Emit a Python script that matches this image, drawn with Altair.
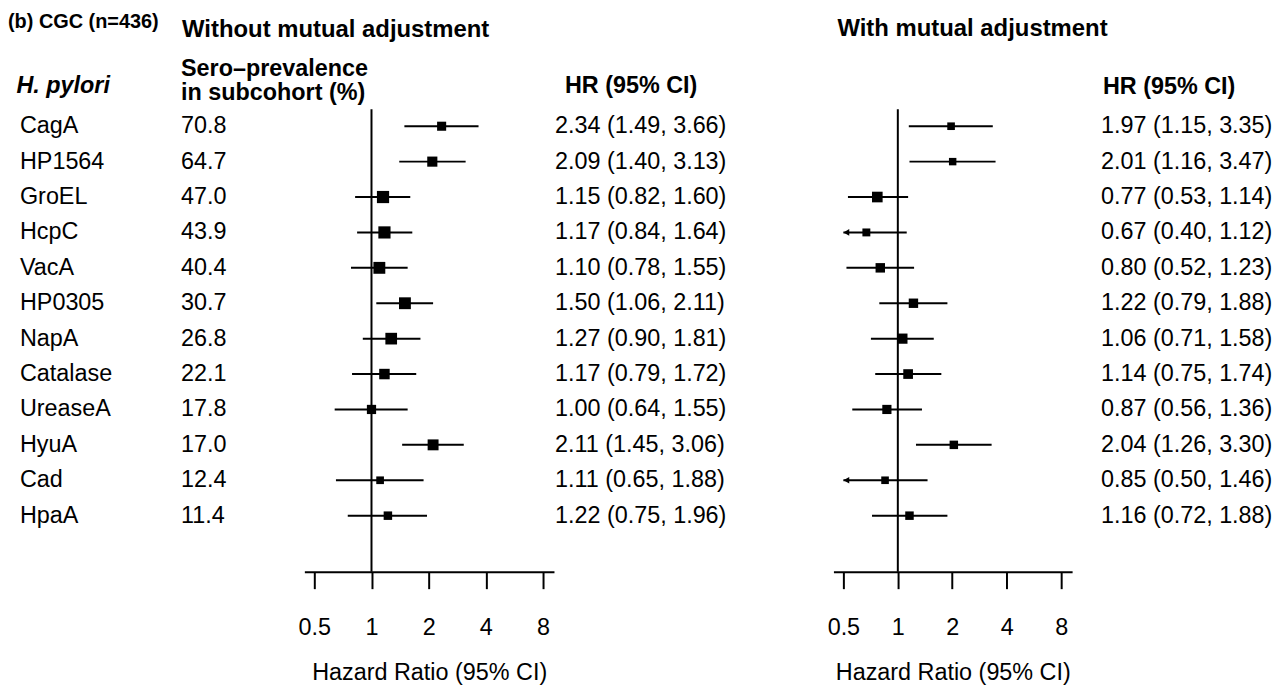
import altair as alt
import pandas as pd

FONT = "Liberation Sans"
FS = 23.5

# ---- data ----
antigens = ["CagA", "HP1564", "GroEL", "HcpC", "VacA", "HP0305", "NapA",
            "Catalase", "UreaseA", "HyuA", "Cad", "HpaA"]
sero = [70.8, 64.7, 47.0, 43.9, 40.4, 30.7, 26.8, 22.1, 17.8, 17.0, 12.4, 11.4]

hr_crude = [2.34, 2.09, 1.15, 1.17, 1.10, 1.50, 1.27, 1.17, 1.00, 2.11, 1.11, 1.22]
lo_crude = [1.49, 1.40, 0.82, 0.84, 0.78, 1.06, 0.90, 0.79, 0.64, 1.45, 0.65, 0.75]
hi_crude = [3.66, 3.13, 1.60, 1.64, 1.55, 2.11, 1.81, 1.72, 1.55, 3.06, 1.88, 1.96]

hr_adj = [1.97, 2.01, 0.77, 0.67, 0.80, 1.22, 1.06, 1.14, 0.87, 2.04, 0.85, 1.16]
lo_adj = [1.15, 1.16, 0.53, 0.40, 0.52, 0.79, 0.71, 0.75, 0.56, 1.26, 0.50, 0.72]
hi_adj = [3.35, 3.47, 1.14, 1.12, 1.23, 1.88, 1.58, 1.74, 1.36, 3.30, 1.46, 1.88]

tick_values = [0.5, 1, 2, 4, 8]
clip_low = 0.5


def make_df(hr, lo, hi):
    return pd.DataFrame({
        "antigen": antigens,
        "row": list(range(len(antigens))),
        "sero": [f"{v:.1f}" for v in sero],
        "hr": hr, "lo": lo, "hi": hi,
        "label": [f"{h:.2f} ({l:.2f}, {u:.2f})" for h, l, u in zip(hr, lo, hi)],
    })


df_left = make_df(hr_crude, lo_crude, hi_crude)
df_right = make_df(hr_adj, lo_adj, hi_adj)

# ---- layout ----
H = 565
Y_TOP, Y_BOT = -3.2865, 12.5843
RULE_TOP = -0.4775
yscale = alt.Scale(domain=[Y_TOP, Y_BOT], reverse=True, nice=False, zero=False)
Y = alt.Y("row:Q", scale=yscale, axis=None)
one = pd.DataFrame({"k": [0]})


def label(text, x, y, size=FS, weight="normal", style="normal"):
    return alt.Chart(one).mark_text(
        text=text, font=FONT, fontSize=size, fontWeight=weight, fontStyle=style,
        align="left", baseline="alphabetic", color="black"
    ).encode(x=alt.value(x), y=alt.value(y))


def column(df, field, x):
    return alt.Chart(df).mark_text(
        align="left", baseline="alphabetic", dy=7, font=FONT, fontSize=FS, color="black"
    ).encode(x=alt.value(x), y=Y, text=f"{field}:N")


def forest(df, domain, width):
    xs = alt.Scale(type="log", base=2, domain=domain, nice=False)
    xaxis = alt.Axis(
        values=tick_values, format="~g", title="Hazard Ratio (95% CI)", grid=False,
        domainColor="black", domainWidth=2, tickColor="black", tickWidth=2, tickSize=17,
        labelFont=FONT, labelFontSize=FS, labelColor="black", labelPadding=27,
        labelFlush=False, titleFont=FONT, titleFontSize=FS, titleFontWeight="normal",
        titleColor="black", titleY=108, titleBaseline="alphabetic",
    )
    refdf = pd.DataFrame({"x": [1.0], "y0": [RULE_TOP], "y1": [Y_BOT]})
    ref = alt.Chart(refdf).mark_rule(color="black", strokeWidth=2).encode(
        x=alt.X("x:Q", scale=xs, axis=xaxis),
        y=alt.Y("y0:Q", scale=yscale, axis=None), y2="y1:Q")
    base = alt.Chart(df).transform_calculate(
        lo_c=f"max(datum.lo, {clip_low})",
        sz="pow(8.2 / log(datum.hi / datum.lo), 2)")
    ci = base.mark_rule(color="black", strokeWidth=2).encode(
        x=alt.X("lo_c:Q", scale=xs), x2="hi:Q", y=Y)
    box = base.mark_square(filled=True, opacity=1, color="black", strokeWidth=0).encode(
        x=alt.X("hr:Q", scale=xs), y=Y, size=alt.Size("sz:Q", scale=None))
    arr = base.transform_filter(f"datum.lo <= {clip_low}").mark_point(
        shape="triangle-left", filled=True, opacity=1, color="black", size=45, xOffset=3
    ).encode(x=alt.X("lo_c:Q", scale=xs), y=Y)
    return alt.layer(ref, ci, box, arr).properties(width=width, height=H)


pA = alt.layer(
    label("(b)  CGC (n=436)", 0, 18, size=20, weight="bold"),
    label("Without mutual adjustment", 175, 27, size=24, weight="bold"),
    label("H. pylori", 8.5, 84, weight="bold", style="italic"),
    label("Sero\u2013prevalence", 174, 66, weight="bold"),
    label("in subcohort (%)", 174, 91, weight="bold"),
    column(df_left, "antigen", 12),
    column(df_left, "sero", 174),
).properties(width=298, height=H)

pB = forest(df_left, [0.4432, 9.134], 251)

pC = alt.layer(
    label("HR (95% CI)", 11, 84, weight="bold"),
    column(df_left, "label", 1),
).properties(width=281, height=H)

pD = alt.layer(
    forest(df_right, [0.44055, 9.196], 240),
    label("With mutual adjustment", 4, 26, size=24, weight="bold"),
).properties(width=240, height=H)

pE = alt.layer(
    label("HR (95% CI)", 31, 85, weight="bold"),
    column(df_right, "label", 29),
).properties(width=195, height=H)

chart = alt.hconcat(pA, pB, pC, pD, pE, spacing=0, bounds="flush").properties(
    padding=0
).configure_view(strokeWidth=0)

chart.save("out.html", embed_options={"renderer": "svg", "actions": False})
